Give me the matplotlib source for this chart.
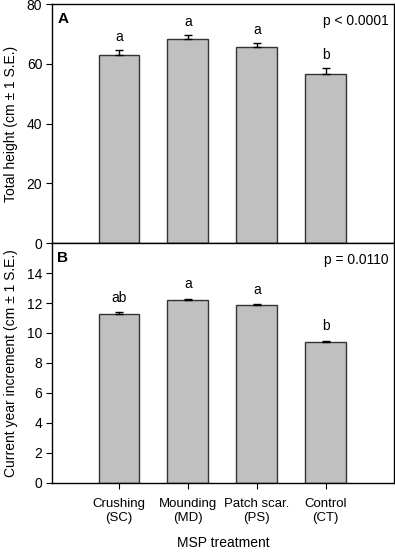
import matplotlib
matplotlib.use("Agg")
import matplotlib.pyplot as plt
import numpy as np

plt.rcParams['font.family'] = ['Liberation Sans', 'DejaVu Sans']

categories = ["Crushing\n(SC)", "Mounding\n(MD)", "Patch scar.\n(PS)", "Control\n(CT)"]
height_vals = [63.0, 68.3, 65.6, 56.5]
height_se = [1.5, 1.4, 1.5, 2.0]
height_letters = ["a", "a", "a", "b"]
incr_vals = [11.3, 12.2, 11.85, 9.4]
incr_se = [0.08, 0.08, 0.08, 0.08]
incr_letters = ["ab", "a", "a", "b"]

fig = plt.figure(figsize=(3.95, 5.53), dpi=100)
W, H = 395.0, 553.0
ax1 = fig.add_axes([52 / W, 1 - 243 / H, 342 / W, 239 / H])
ax2 = fig.add_axes([52 / W, 1 - 483 / H, 342 / W, 240 / H])

x = np.arange(len(categories))
fs = 10

def draw(ax, vals, se, letters, ylim, yticks, ylabel, panel, ptxt, lpad):
    ax.bar(x, vals, width=0.59, color="#c0c0c0", edgecolor="#333333", linewidth=1.0, zorder=2)
    ax.errorbar(x, vals, yerr=[np.zeros(len(se)), se], fmt="none", ecolor="black",
                elinewidth=1.0, capsize=3, capthick=1.0, zorder=3)
    for xi, v, s, l in zip(x, vals, se, letters):
        ax.text(xi, v + s + lpad, l, ha="center", va="bottom", fontsize=fs)
    ax.set_xlim(-0.97, 3.99)
    ax.set_ylim(*ylim)
    ax.set_yticks(yticks)
    ax.tick_params(axis="y", direction="out", length=4, width=0.8, labelsize=fs, pad=3)
    ax.set_ylabel(ylabel, fontsize=10, labelpad=6)
    ax.text(0.015, 0.965, panel, transform=ax.transAxes, ha="left", va="top",
            fontsize=11, fontweight="bold")
    ax.text(0.985, 0.96, ptxt, transform=ax.transAxes, ha="right", va="top", fontsize=fs)
    for sp in ax.spines.values():
        sp.set_linewidth(1.0)

draw(ax1, height_vals, height_se, height_letters, (0, 80), [0, 20, 40, 60, 80],
     "Total height (cm \u00b1 1 S.E.)", "A", "p < 0.0001", 2.0)
ax1.set_xticks([])

draw(ax2, incr_vals, incr_se, incr_letters, (0, 16), [0, 2, 4, 6, 8, 10, 12, 14],
     "Current year increment (cm \u00b1 1 S.E.)", "B", "p = 0.0110", 0.5)
ax2.set_xticks(x)
ax2.set_xticklabels(categories, fontsize=9.5, linespacing=1.15)
ax2.tick_params(axis="x", direction="out", length=4, width=0.8, pad=7)
ax2.set_xlabel("MSP treatment", fontsize=10, labelpad=9)

fig.savefig("out.png", dpi=100)
